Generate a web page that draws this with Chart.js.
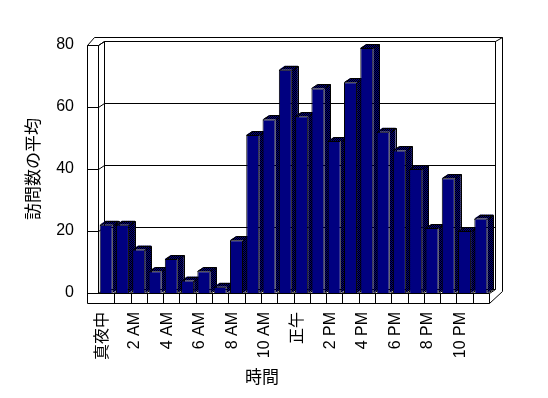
<!DOCTYPE html>
<html><head><meta charset="utf-8">
<script src="https://cdn.jsdelivr.net/npm/chart.js@4/dist/chart.umd.min.js"></script>
<style>html,body{margin:0;padding:0;background:#fff;}#wrap{width:548px;height:398px;}</style>
</head><body><div id="wrap"><canvas id="c" width="548" height="398"></canvas></div>
<script>
const categories = ['真夜中','1 AM','2 AM','3 AM','4 AM','5 AM','6 AM','7 AM','8 AM','9 AM','10 AM','11 AM',
  '正午','1 PM','2 PM','3 PM','4 PM','5 PM','6 PM','7 PM','8 PM','9 PM','10 PM','11 PM'];
const values = [22,22,14,7,11,4,7,2,17,51,56,72,57,66,49,68,79,52,46,40,21,37,20,24];
const yTicks = [0,20,40,60,80];
const yTitle = '訪問数の平均';
const xTitle = '時間';

const DX = 6, DY = 4, WT = 11, FT = 10;

function makePattern(ctx){
  const p = document.createElement('canvas'); p.width = 2; p.height = 2;
  const c = p.getContext('2d');
  c.fillStyle = '#000080'; c.fillRect(0,0,2,2);
  c.fillStyle = '#000000'; c.fillRect(0,0,1,1); c.fillRect(1,1,1,1);
  return ctx.createPattern(p,'repeat');
}

const frame3d = {
  id: 'frame3d',
  beforeDatasetsDraw(chart){
    const {ctx, chartArea: a, scales: {x, y}} = chart;
    const L = a.left, R = a.right, T = a.top, B = a.bottom;
    ctx.save();
    ctx.strokeStyle = '#000'; ctx.lineWidth = 1;
    const line = (pts) => { ctx.beginPath(); pts.forEach((p,i)=> i ? ctx.lineTo(Math.round(p[0])+.5, Math.round(p[1])+.5) : ctx.moveTo(Math.round(p[0])+.5, Math.round(p[1])+.5)); ctx.stroke(); };
    // back wall
    line([[L+DX, B-DY],[L+DX, T-DY],[R+DX, T-DY],[R+DX, B-DY]]);
    // wall top slab
    line([[L-WT, T],[L-WT+7, T-DY-4],[R+DX+7, T-DY-4],[R+DX+7, B+FT-12]]);
    line([[R+DX, T-DY],[R+DX+7, T-DY-4]]);
    // left wall
    line([[L-WT, B+FT],[L-WT, T],[L, T],[L+DX, T-DY]]);
    line([[L, T],[L, B]]);
    // gridlines
    yTicks.forEach(v => {
      const yv = y.getPixelForValue(v);
      line([[L-WT, yv],[L, yv],[L+DX, yv-DY],[R+DX, yv-DY]]);
    });
    // floor
    line([[L-WT, B],[R, B],[R, B+FT],[L-WT, B+FT]]);
    line([[R, B],[R+DX, B-DY]]);
    line([[R, B+FT],[R+DX+7, B+FT-12]]);
    const n = categories.length, cw = (R - L) / n;
    for (let i = 1; i < n; i++) line([[L + i*cw, B],[L + i*cw, B+FT]]);
    // bar depth faces
    const pat = makePattern(ctx);
    const meta = chart.getDatasetMeta(0);
    meta.data.forEach(bar => {
      const w = bar.width, l = bar.x - w/2, r = bar.x + w/2, t = bar.y, b = bar.base;
      ctx.fillStyle = pat;
      ctx.beginPath();
      ctx.moveTo(l, t); ctx.lineTo(l+DX, t-DY); ctx.lineTo(r+DX, t-DY); ctx.lineTo(r+DX, b-DY); ctx.lineTo(r, b); ctx.lineTo(r, t); ctx.closePath();
      ctx.fill();
      line([[l, t],[l+DX, t-DY],[r+DX, t-DY],[r+DX, b-DY],[r, b]]);
      line([[r, t],[r+DX, t-DY]]);
    });
    ctx.restore();
  },
  afterDraw(chart){
    const {ctx} = chart;
    ctx.save();
    ctx.fillStyle = '#000';
    ctx.font = '17px "Noto Sans CJK JP"';
    ctx.textAlign = 'center'; ctx.textBaseline = 'middle';
    ctx.fillText(xTitle, 262, 377);
    ctx.restore();
  }
};

new Chart(document.getElementById('c'), {
  type: 'bar',
  data: { labels: categories, datasets: [{ data: values, backgroundColor: '#000080', borderColor: '#000', borderWidth: 1, barPercentage: 0.8, categoryPercentage: 1 }] },
  options: {
    responsive: false, animation: false, devicePixelRatio: 1,
    layout: { padding: { top: 45, right: 59, left: 0, bottom: 0 } },
    plugins: { legend: { display: false }, tooltip: { enabled: false } },
    scales: {
      x: {
        grid: { display: false, drawTicks: false }, border: { display: false },
        ticks: { autoSkip: false, minRotation: 90, maxRotation: 90, padding: 19, labelOffset: -4, color: '#000',
          font: { family: '"Liberation Sans", "Noto Sans CJK JP"', size: 16 },
          callback: (v, i) => i % 2 === 0 ? categories[i] : '' },
        afterFit: s => { s.height = 105; }
      },
      y: {
        min: 0, max: 80,
        grid: { display: false, drawTicks: false }, border: { display: false },
        ticks: { stepSize: 20, padding: 24, color: '#000', font: { family: '"Liberation Sans"', size: 16 } },
        title: { display: true, text: yTitle, color: '#000', font: { family: '"Noto Sans CJK JP"', size: 17 }, padding: { top: 22, bottom: 0 } },
        afterFit: s => { s.width = 98; }
      }
    }
  },
  plugins: [frame3d]
});
</script></body></html>
